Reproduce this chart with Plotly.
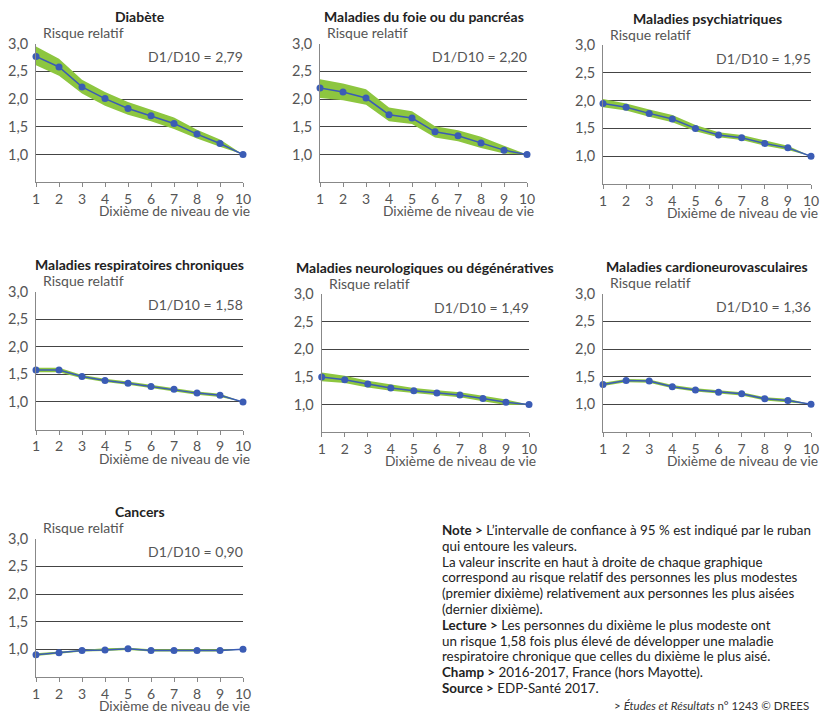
import plotly.graph_objects as go

W, H = 823, 713

deciles = [1, 2, 3, 4, 5, 6, 7, 8, 9, 10]
x_ticklabels = ["1", "2", "3", "4", "5", "6", "7", "8", "9", "10"]
y_tickvals = [1.0, 1.5, 2.0, 2.5, 3.0]

titles = [
    "Diabète",
    "Maladies du foie ou du pancréas",
    "Maladies psychiatriques",
    "Maladies respiratoires chroniques",
    "Maladies neurologiques ou dégénératives",
    "Maladies cardioneurovasculaires",
    "Cancers",
]
ratios = ["2,79", "2,20", "1,95", "1,58", "1,49", "1,36", "0,90"]

diabete = [2.77, 2.58, 2.22, 2.01, 1.83, 1.70, 1.56, 1.37, 1.20, 1.00]
diabete_low = [2.61, 2.42, 2.10, 1.88, 1.72, 1.60, 1.46, 1.29, 1.14, 1.00]
diabete_high = [2.95, 2.73, 2.35, 2.13, 1.95, 1.81, 1.67, 1.45, 1.27, 1.00]

foie = [2.20, 2.13, 2.02, 1.72, 1.66, 1.41, 1.34, 1.21, 1.08, 1.00]
foie_low = [2.02, 1.98, 1.90, 1.60, 1.55, 1.31, 1.24, 1.12, 1.02, 1.00]
foie_high = [2.36, 2.28, 2.18, 1.85, 1.78, 1.51, 1.44, 1.32, 1.16, 1.00]

psy = [1.95, 1.88, 1.77, 1.67, 1.50, 1.38, 1.33, 1.23, 1.15, 1.00]
psy_low = [1.88, 1.82, 1.71, 1.61, 1.45, 1.34, 1.29, 1.19, 1.11, 1.00]
psy_high = [2.03, 1.95, 1.84, 1.74, 1.56, 1.43, 1.38, 1.28, 1.19, 1.00]

resp = [1.58, 1.58, 1.46, 1.39, 1.34, 1.28, 1.23, 1.16, 1.12, 1.00]
resp_low = [1.54, 1.54, 1.43, 1.36, 1.31, 1.25, 1.20, 1.13, 1.09, 1.00]
resp_high = [1.62, 1.62, 1.49, 1.42, 1.37, 1.31, 1.26, 1.19, 1.15, 1.00]

neuro = [1.50, 1.45, 1.37, 1.30, 1.25, 1.21, 1.17, 1.11, 1.04, 1.00]
neuro_low = [1.42, 1.39, 1.31, 1.25, 1.21, 1.17, 1.13, 1.06, 0.99, 1.00]
neuro_high = [1.58, 1.52, 1.43, 1.36, 1.30, 1.26, 1.22, 1.16, 1.09, 1.00]

cardio = [1.36, 1.43, 1.42, 1.32, 1.26, 1.22, 1.19, 1.10, 1.07, 1.00]
cardio_low = [1.33, 1.40, 1.39, 1.29, 1.23, 1.19, 1.16, 1.07, 1.04, 1.00]
cardio_high = [1.39, 1.46, 1.45, 1.35, 1.29, 1.25, 1.22, 1.13, 1.10, 1.00]

cancer = [0.90, 0.94, 0.98, 0.99, 1.01, 0.98, 0.98, 0.98, 0.98, 1.00]
cancer_low = [0.88, 0.92, 0.96, 0.97, 0.99, 0.96, 0.96, 0.96, 0.96, 1.00]
cancer_high = [0.93, 0.96, 1.00, 1.02, 1.03, 1.00, 1.00, 1.00, 1.00, 1.00]

series = [diabete, foie, psy, resp, neuro, cardio, cancer]
lows = [diabete_low, foie_low, psy_low, resp_low, neuro_low, cardio_low, cancer_low]
highs = [diabete_high, foie_high, psy_high, resp_high, neuro_high, cardio_high, cancer_high]

# panel rectangles in pixels: (left, right, top, bottom)
rects = [
    (36, 243, 43.7, 182.3),
    (320, 527, 43.7, 182.3),
    (603, 811, 45, 184),
    (36, 243, 291.7, 429.5),
    (321.7, 529, 294.3, 432),
    (603, 811, 293.7, 432),
    (36, 243, 538.7, 677),
]

GREEN = "#8dc63f"
BLUE = "#3b5cb5"
FONT = "Lato"

fig = go.Figure()
layout = dict(
    template="none",
    width=W, height=H,
    margin=dict(l=0, r=0, t=0, b=0, autoexpand=False),
    paper_bgcolor="white", plot_bgcolor="white",
    showlegend=False,
    separators=", ",
    font=dict(family=FONT, size=13, color="#555"),
)
annotations = []

for i in range(7):
    n = i + 1
    xa = "x" if n == 1 else f"x{n}"
    ya = "y" if n == 1 else f"y{n}"
    l, r, t, b = rects[i]
    fig.add_trace(go.Scatter(x=deciles, y=lows[i], xaxis=xa, yaxis=ya, mode="lines",
                             line=dict(width=0, color=GREEN), hoverinfo="skip"))
    fig.add_trace(go.Scatter(x=deciles, y=highs[i], xaxis=xa, yaxis=ya, mode="lines",
                             line=dict(width=0, color=GREEN), fill="tonexty",
                             fillcolor=GREEN, hoverinfo="skip"))
    fig.add_trace(go.Scatter(x=deciles, y=series[i], xaxis=xa, yaxis=ya, mode="lines+markers",
                             line=dict(width=1.5, color=BLUE),
                             marker=dict(size=7, color=BLUE, line=dict(width=0)), cliponaxis=False))
    xkey = "xaxis" if n == 1 else f"xaxis{n}"
    ykey = "yaxis" if n == 1 else f"yaxis{n}"
    layout[xkey] = dict(
        domain=[l / W, r / W], anchor=ya, range=[1, 10], automargin=False,
        tickvals=deciles, ticktext=x_ticklabels,
        showgrid=False, zeroline=False,
        showline=True, linecolor="#888", linewidth=1,
        ticks="outside", ticklen=4, tickcolor="#888", tickwidth=1,
        ticklabelstandoff=0,
        tickfont=dict(family=FONT, size=14, color="#555"),
        fixedrange=True,
    )
    layout[ykey] = dict(
        domain=[1 - b / H, 1 - t / H], anchor=xa, range=[0.5, 3.0], automargin=False,
        tickvals=y_tickvals, tickformat=".1f",
        showgrid=True, gridcolor="#444", gridwidth=1,
        zeroline=False, showline=True, linecolor="#888", linewidth=1,
        ticks="", ticklabelstandoff=4,
        tickfont=dict(family=FONT, size=14.5, color="#555"),
        fixedrange=True,
    )
    xd = f"{xa} domain"
    yd = f"{ya} domain"
    annotations.append(dict(text=f"<b>{titles[i]}</b>", xref=xd, yref=yd, x=0.5, y=1,
                            xanchor="center", yanchor="middle", yshift=27, showarrow=False,
                            font=dict(family=FONT, size=14, color="#222")))
    annotations.append(dict(text="Risque relatif", xref=xd, yref=yd, x=0, y=1,
                            xanchor="left", yanchor="middle", xshift=5, yshift=11, showarrow=False,
                            font=dict(family=FONT, size=14, color="#555")))
    annotations.append(dict(text=f"D1/D10 = {ratios[i]}", xref=xd, yref=yd, x=1, y=1,
                            xanchor="right", yanchor="middle", xshift=2, yshift=-13, showarrow=False,
                            font=dict(family=FONT, size=14, color="#555")))
    annotations.append(dict(text="Dixième de niveau de vie", xref=xd, yref=yd, x=1, y=0,
                            xanchor="right", yanchor="middle", xshift=9, yshift=-28.5, showarrow=False,
                            font=dict(family=FONT, size=13.8, color="#555")))

note_lines = [
    "<b>Note ></b> L’intervalle de confiance à 95 % est indiqué par le ruban",
    "qui entoure les valeurs.",
    "La valeur inscrite en haut à droite de chaque graphique",
    "correspond au risque relatif des personnes les plus modestes",
    "(premier dixième) relativement aux personnes les plus aisées",
    "(dernier dixième).",
    "<b>Lecture ></b> Les personnes du dixième le plus modeste ont",
    "un risque 1,58 fois plus élevé de développer une maladie",
    "respiratoire chronique que celles du dixième le plus aisé.",
    "<b>Champ ></b> 2016-2017, France (hors Mayotte).",
    "<b>Source ></b> EDP-Santé 2017.",
]
for k, line in enumerate(note_lines):
    ypx = 530 + k * 15.8
    annotations.append(dict(text=line, xref="paper", yref="paper", x=440 / W, y=1 - ypx / H,
                            xanchor="left", yanchor="middle", showarrow=False, align="left",
                            font=dict(family=FONT, size=13.4, color="#222")))

annotations.append(dict(text="> <i>Études et Résultats</i> n° 1243 © DREES", xref="paper", yref="paper",
                        x=612 / W, y=1 - 705 / H, xanchor="left", yanchor="middle", showarrow=False,
                        font=dict(family=FONT, size=11.5, color="#333")))

layout["annotations"] = annotations
fig.update_layout(**layout)
fig.write_html("out.html", config={"displayModeBar": False},
               post_script="document.body.style.margin='0';document.body.style.overflow='hidden';")
